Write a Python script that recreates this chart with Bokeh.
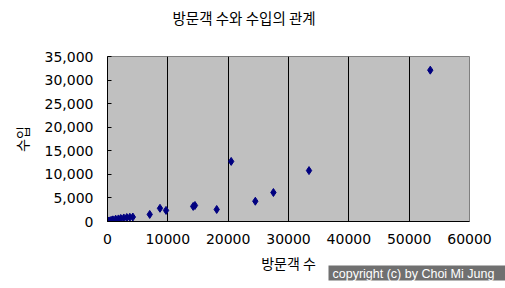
from bokeh.plotting import figure
from bokeh.models import FixedTicker, NumeralTickFormatter, Range1d, Title
from bokeh.embed import file_html
from bokeh.resources import INLINE

# data (visitors, revenue)
visitors = [53500, 33400, 27500, 24500, 20500, 18100, 14500, 14200, 9700, 8700, 7000,
            4200, 3700, 3200, 2700, 2200, 1800, 1350, 900, 600, 300, 150, 80, 40]
revenue = [32100, 10800, 6150, 4300, 12750, 2550, 3400, 3200, 2350, 2800, 1500,
           950, 900, 850, 750, 650, 550, 500, 350, 250, 120, 60, 30, 15]

x_ticks = [0, 10000, 20000, 30000, 40000, 50000, 60000]
y_ticks = [0, 5000, 10000, 15000, 20000, 25000, 30000, 35000]

title_text = "방문객 수와 수입의 관계"
x_label = "방문객 수"
y_label = "수입"
credit = "copyright (c) by Choi Mi Jung"

KR = "Noto Sans CJK KR"
NUM = "DejaVu Sans"

p = figure(width=505, height=288, output_backend="svg", toolbar_location=None,
           x_range=Range1d(0, 60000), y_range=Range1d(0, 35000),
           min_border_left=107, min_border_right=36, min_border_top=56, min_border_bottom=67)

p.background_fill_color = "#C0C0C0"
p.border_fill_color = "white"
p.outline_line_color = "#808080"
p.outline_line_width = 1

p.scatter(visitors, revenue, marker="diamond", size=8, fill_color="#000080",
          line_color="#000080")

p.ygrid.grid_line_color = None
p.xgrid.ticker = FixedTicker(ticks=x_ticks)
p.xgrid.grid_line_color = "black"
p.xgrid.grid_line_width = 1

p.xaxis.ticker = FixedTicker(ticks=x_ticks)
p.yaxis.ticker = FixedTicker(ticks=y_ticks)
p.yaxis.formatter = NumeralTickFormatter(format="0,0")
for ax in (p.xaxis[0], p.yaxis[0]):
    ax.axis_line_color = "black"
    ax.major_tick_line_color = "black"
    ax.minor_tick_line_color = None
    ax.major_label_text_font = NUM
    ax.major_label_text_font_size = "14px"
    ax.major_label_text_color = "black"
    ax.axis_label_text_font = KR
    ax.axis_label_text_font_size = "14px"
    ax.axis_label_text_font_style = "normal"
    ax.axis_label_text_color = "black"

p.xaxis.major_tick_in = 0
p.xaxis.major_tick_out = 0
p.xaxis.major_label_standoff = 12
p.xaxis.axis_label = x_label
p.xaxis.axis_label_standoff = 6

p.yaxis.major_tick_in = 4
p.yaxis.major_tick_out = 0
p.yaxis.major_label_standoff = 14
p.yaxis.axis_label = y_label
p.yaxis.axis_label_standoff = 10

# spacer between frame and title
p.add_layout(Title(text=" ", text_font_size="1px", standoff=26), "above")

p.title.text = title_text
p.title.align = "left"
p.title.offset = 65
p.title.vertical_align = "bottom"
p.title.standoff = 0
p.title.text_font = KR
p.title.text_font_size = "14.5px"
p.title.text_font_style = "normal"
p.title.text_color = "black"

# credit box below the x axis
p.add_layout(Title(text=credit, align="left", offset=221, vertical_align="top",
                   standoff=-20, text_font="Liberation Sans", text_font_size="12.5px",
                   text_font_style="normal", text_color="white",
                   background_fill_color="#707070",
                   padding=dict(left=4, right=14, top=1, bottom=0)), "below")

open("out.html", "w").write(file_html(p, INLINE))
